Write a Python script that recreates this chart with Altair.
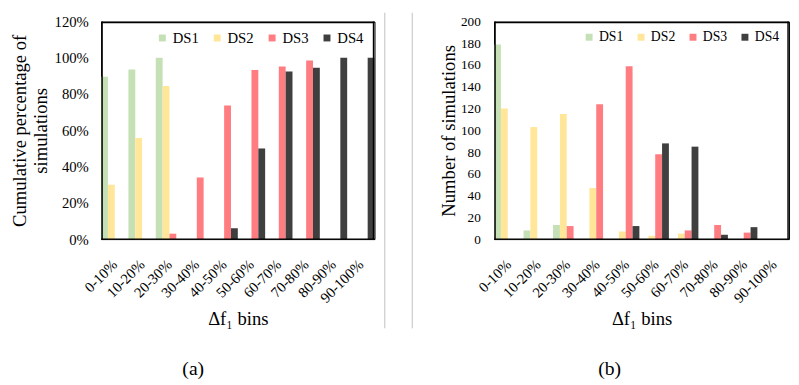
import altair as alt
import pandas as pd

FONT = "Liberation Serif"

bins = ["0-10%", "10-20%", "20-30%", "30-40%", "40-50%",
        "50-60%", "60-70%", "70-80%", "80-90%", "90-100%"]
series = ["DS1", "DS2", "DS3", "DS4"]
colors = ["#C5E0B4", "#FFE699", "#FF7C80", "#3F3F3F"]

# (a) cumulative percentage of simulations (None = no bar drawn)
cum_ds1 = [89.5, 93.5, 100, None, None, None, None, None, None, None]
cum_ds2 = [30, 55.75, 84.5, None, None, None, None, None, None, None]
cum_ds3 = [None, None, 3, 34, 73.75, 93.25, 95.25, 98.5, None, None]
cum_ds4 = [None, None, None, None, 6, 50, 92.5, 94.5, 100, 100]

# (b) number of simulations
num_ds1 = [179, 8, 13, None, None, None, None, None, None, None]
num_ds2 = [120, 103, 115, 47, 7, 3, 5, None, None, None]
num_ds3 = [None, None, 12, 124, 159, 78, 8, 13, 6, None]
num_ds4 = [None, None, None, None, 12, 88, 85, 4, 11, None]

pct_ticks = [0, 20, 40, 60, 80, 100, 120]
num_ticks = [0, 20, 40, 60, 80, 100, 120, 140, 160, 180, 200]


def long_table(cols):
    rows = []
    for s, vals in zip(series, cols):
        for b, v in zip(bins, vals):
            if v is not None:
                rows.append({"bin": b, "series": s, "value": v})
    return pd.DataFrame(rows)


df_a = long_table([cum_ds1, cum_ds2, cum_ds3, cum_ds4])
df_b = long_table([num_ds1, num_ds2, num_ds3, num_ds4])

color_scale = alt.Scale(domain=series, range=colors)
H = 222
WA = 279
WB = 301


def bars(df, ydomain, yticks, ytitle, label_expr, tick_font, legend_font,
         legend_x, col_pad, title_pad, label_pad_y):
    yaxis_kwargs = dict(values=yticks, title=ytitle, labelFontSize=tick_font,
                        titleFontSize=19, titleFontWeight="normal",
                        titleLineHeight=21, titlePadding=title_pad,
                        labelPadding=label_pad_y, labelOverlap=False)
    if label_expr:
        yaxis_kwargs["labelExpr"] = label_expr
    return alt.Chart(df).mark_bar().encode(
        x=alt.X("bin:N", sort=bins,
                scale=alt.Scale(domain=bins, paddingInner=0, paddingOuter=0),
                axis=alt.Axis(title="Δf₁ bins", labelAngle=-45,
                              labelAlign="right", labelBaseline="middle",
                              labelPadding=23, labelFontSize=15,
                              titleFontSize=19, titleFontWeight="normal",
                              titlePadding=5, labelOverlap=False)),
        xOffset=alt.XOffset("series:N",
                            scale=alt.Scale(domain=series, paddingInner=0,
                                            paddingOuter=0)),
        y=alt.Y("value:Q", scale=alt.Scale(domain=ydomain, nice=False),
                axis=alt.Axis(**yaxis_kwargs)),
        color=alt.Color("series:N", scale=color_scale,
                        legend=alt.Legend(orient="none", legendX=legend_x,
                                          legendY=9, direction="horizontal",
                                          title=None, symbolType="square",
                                          symbolSize=50, symbolStrokeWidth=0,
                                          labelFontSize=legend_font,
                                          labelOffset=3,
                                          columnPadding=col_pad)),
    )


def edge(x, x2, y, y2):
    return alt.Chart(pd.DataFrame({"k": [1]})).mark_rule(
        color="#000000", strokeWidth=1.5).encode(
        x=alt.value(x), x2=alt.value(x2), y=alt.value(y), y2=alt.value(y2))


def frame(w):
    return [edge(0, w, 1, 1), edge(0, w, H, H), edge(1, 1, 0, H), edge(w - 1, w - 1, 0, H)]


bars_a = bars(df_a, [0, 120], pct_ticks,
              ["Cumulative percentage of", "simulations"],
              "datum.value + '%'", 15, 15, 55, 11, 4, 13)
bars_b = bars(df_b, [0, 200], num_ticks, "Number of simulations",
              None, 13.5, 14, 90, 11, 2, 14)

sep1 = edge(289.5, 289.5, -9, 313).mark_rule(color="#BFBFBF", strokeWidth=1)
sep2 = edge(317.5, 317.5, -9, 313).mark_rule(color="#BFBFBF", strokeWidth=1)

cap_a = alt.Chart(pd.DataFrame({"t": ["(a)"]})).mark_text(
    font=FONT, fontSize=20, color="black").encode(
    text="t:N", x=alt.value(94), y=alt.value(355))
cap_b = alt.Chart(pd.DataFrame({"t": ["(b)"]})).mark_text(
    font=FONT, fontSize=20, color="black").encode(
    text="t:N", x=alt.value(118), y=alt.value(355))

panel_a = alt.layer(bars_a, *frame(WA), sep1, sep2, cap_a).properties(width=WA, height=H)
panel_b = alt.layer(bars_b, *frame(WB), cap_b).properties(width=WB, height=H)

chart = alt.hconcat(panel_a, panel_b, spacing=122, bounds="flush").resolve_scale(
    x="independent", y="independent"
).resolve_legend(color="independent").properties(
    padding={"left": 2, "top": 0, "right": 0, "bottom": 0}
).configure_axis(
    labelFont=FONT, titleFont=FONT, labelColor="black", titleColor="black",
    grid=False, domain=False, ticks=False
).configure_legend(
    labelFont=FONT, labelColor="black"
).configure_view(
    stroke="#000000", strokeWidth=1, strokeOpacity=1
)

chart.save("out.html", embed_options={"renderer": "svg", "actions": False})
